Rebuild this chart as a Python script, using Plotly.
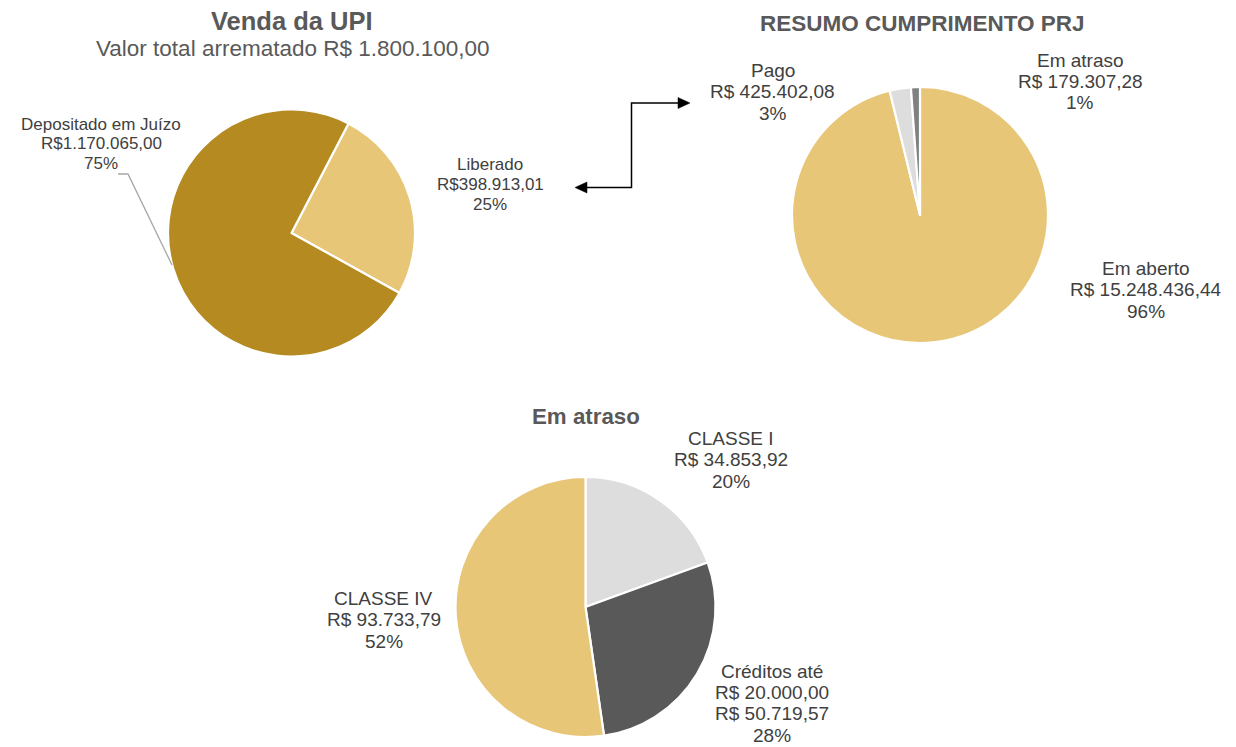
import plotly.graph_objects as go

W, H = 1236, 747
FONT = "Liberation Sans, Arial, sans-serif"

# ---------------- data ----------------
upi_names = ["Liberado", "Depositado em Juízo"]
upi_values = [398913.01, 1170065.00]
upi_pct = ["25%", "75%"]
upi_total = 1800100.00

prj_names = ["Em aberto", "Pago", "Em atraso"]
prj_values = [15248436.44, 425402.08, 179307.28]
prj_pct = ["96%", "3%", "1%"]

atr_names = ["CLASSE I", "Créditos até\nR$ 20.000,00", "CLASSE IV"]
atr_values = [34853.92, 50719.57, 93733.79]
atr_pct = ["20%", "28%", "52%"]

# ---------------- styles / layout ----------------
GOLD_D = "#B48A21"
GOLD_L = "#E7C678"
GRAY_L = "#DDDDDD"
GRAY_M = "#808080"
GRAY_D = "#595959"
TXT = "#404040"
TITLE = "#595959"

upi_colors = [GOLD_L, GOLD_D]
prj_colors = [GOLD_L, GRAY_L, GRAY_M]
atr_colors = [GRAY_L, GRAY_D, GOLD_L]


def brl(v, sep=" "):
    s = f"{v:,.2f}".replace(",", "X").replace(".", ",").replace("X", ".")
    return "R$" + sep + s


def px(x):
    return x / W


def py(y):
    return 1 - y / H


def dom(cx, cy, r):
    return dict(x=[px(cx - r), px(cx + r)], y=[py(cy + r), py(cy - r)])


fig = go.Figure()

pies = [
    (upi_names, upi_values, upi_colors, (291.5, 233, 123.5), 27.5),
    (prj_names, prj_values, prj_colors, (920, 215, 128), 0),
    (atr_names, atr_values, atr_colors, (585.5, 607, 130), 0),
]
for names, vals, cols, (cx, cy, r), rot in pies:
    fig.add_trace(go.Pie(
        labels=[n.replace("\n", " ") for n in names], values=vals,
        marker=dict(colors=cols, line=dict(color="white", width=2.2)),
        sort=False, direction="clockwise", rotation=rot,
        textinfo="none", hoverinfo="label+value+percent",
        domain=dom(cx, cy, r), showlegend=False,
    ))

annotations = []


def block(lines, cx, cy0, size, step):
    for i, line in enumerate(lines):
        annotations.append(dict(
            x=px(cx), y=py(cy0 + i * step), xref="paper", yref="paper",
            text=line, showarrow=False, xanchor="center", yanchor="middle",
            font=dict(family=FONT, size=size, color=TXT),
        ))


def lines_for(name, value, pct, sep):
    return name.split("\n") + [brl(value, sep), pct]


# pie 1 labels
upi_pos = [(490, 165, 19.5), (101, 124, 19.5)]
for n, v, p, (cx, cy, st) in zip(upi_names, upi_values, upi_pct, upi_pos):
    block(lines_for(n, v, p, ""), cx, cy, 17, st)

# pie 2 labels
prj_pos = [(1146, 268, 21.5), (772.5, 70, 21.5), (1080, 60, 21.5)]
for n, v, p, (cx, cy, st) in zip(prj_names, prj_values, prj_pct, prj_pos):
    block(lines_for(n, v, p, " "), cx, cy, 19, st)

# pie 3 labels
atr_pos = [(730.5, 438, 21.7), (771.5, 671, 21.4), (383.5, 598, 21.7)]
for n, v, p, (cx, cy, st) in zip(atr_names, atr_values, atr_pct, atr_pos):
    block(lines_for(n, v, p, " "), cx, cy, 19, st)

# titles
def title(text, cx, cy, size, bold=True):
    annotations.append(dict(
        x=px(cx), y=py(cy), xref="paper", yref="paper",
        text=f"<b>{text}</b>" if bold else text, showarrow=False,
        xanchor="center", yanchor="middle",
        font=dict(family=FONT, size=size, color=TITLE),
    ))


title("Venda da UPI", 292, 21, 25.5)
title("Valor total arrematado " + brl(upi_total), 293, 48, 22.5, bold=False)
title("RESUMO CUMPRIMENTO PRJ", 922, 24, 22.5)
title("Em atraso", 586, 416, 22.3)

# shapes: leader line and connector arrow
def path(points, close=False):
    s = "M " + " L ".join(f"{px(x)} {py(y)}" for x, y in points)
    return s + (" Z" if close else "")


shapes = [
    dict(type="path", xref="paper", yref="paper",
         path=path([(118, 174), (128, 174), (172, 265)]),
         line=dict(color="#A6A6A6", width=1.3)),
    dict(type="path", xref="paper", yref="paper",
         path=path([(585, 187.5), (631.5, 187.5), (631.5, 103), (680, 103)]),
         line=dict(color="black", width=1.5)),
    dict(type="path", xref="paper", yref="paper",
         path=path([(575, 187.5), (587, 182), (587, 193)], close=True),
         fillcolor="black", line=dict(color="black", width=0.5)),
    dict(type="path", xref="paper", yref="paper",
         path=path([(690, 103), (678, 97.5), (678, 108.5)], close=True),
         fillcolor="black", line=dict(color="black", width=0.5)),
]

fig.update_layout(
    width=W, height=H,
    margin=dict(l=0, r=0, t=0, b=0),
    paper_bgcolor="white", plot_bgcolor="white",
    annotations=annotations, shapes=shapes,
    font=dict(family=FONT, color=TXT),
)

fig.write_html(
    "out.html",
    config={"displayModeBar": False},
    post_script="document.body.style.margin='0';document.body.style.padding='0';",
)
